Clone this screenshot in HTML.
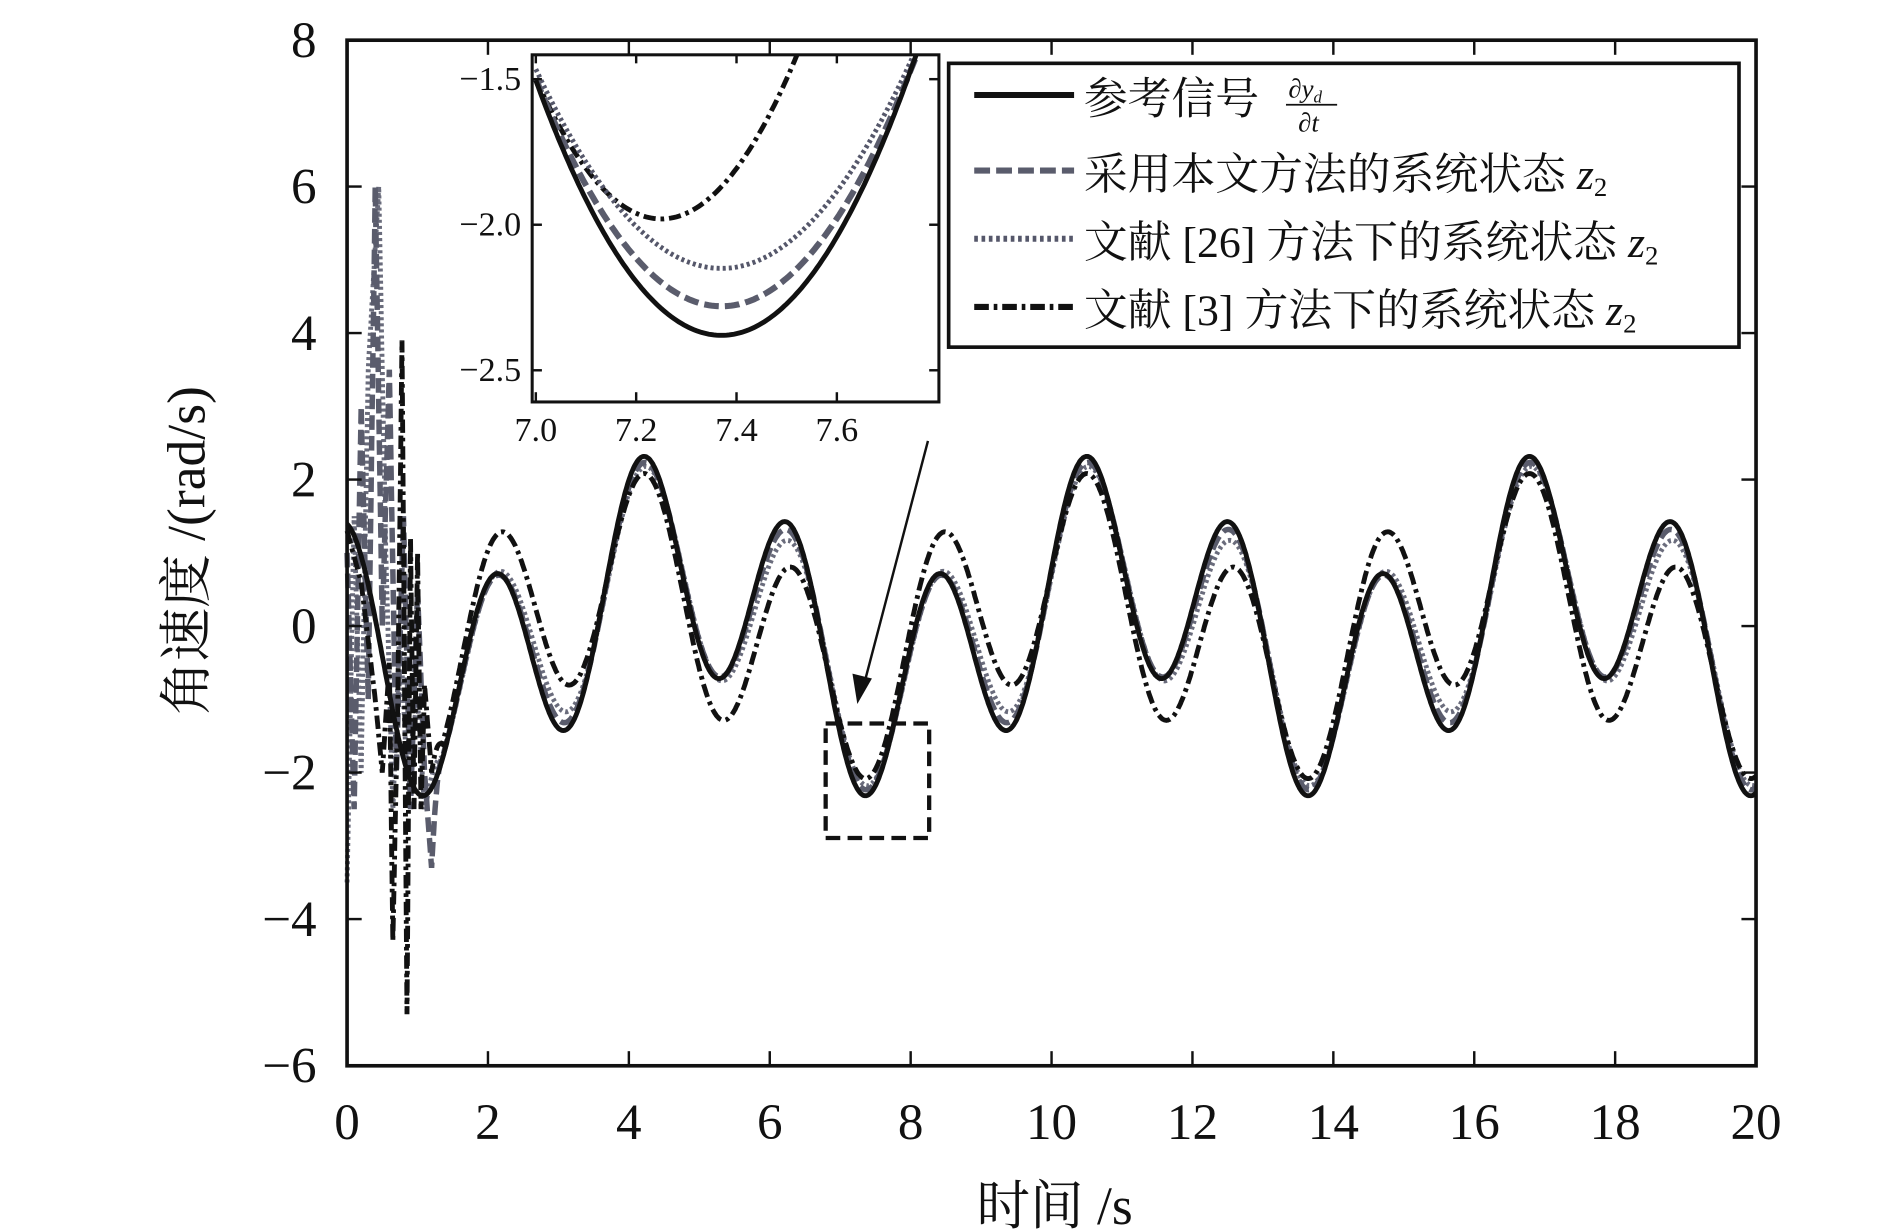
<!DOCTYPE html>
<html><head><meta charset="utf-8"><style>
html,body{margin:0;padding:0;background:#fff;}
svg{display:block;}
text{font-family:"Liberation Serif","Noto Serif CJK SC",serif;fill:#111;}
.cjk{font-family:"Liberation Serif","Noto Serif CJK SC","Noto Sans CJK SC",serif;}
</style></head><body>
<svg id="s" width="1890" height="1229" viewBox="0 0 1552 1009" preserveAspectRatio="none" xmlns="http://www.w3.org/2000/svg">
<rect width="1552" height="1009" fill="#fff"/>
<g id="curves"></g>
<rect x="285" y="33" width="1157" height="842" fill="none" stroke="#111" stroke-width="3"/>
<g id="ticks" stroke="#111" stroke-width="2"></g>
<g id="labels" font-size="42"></g>
<text x="866" y="1005" font-size="44" text-anchor="middle" class="cjk">时间 /s</text>
<text transform="translate(168,452) rotate(-90)" font-size="44" text-anchor="middle" class="cjk">角速度 /(rad/s)</text>
<rect x="678" y="594" width="85" height="94" fill="none" stroke="#111" stroke-width="3.5" stroke-dasharray="12,6"/>
<line x1="762" y1="362" x2="710" y2="560" stroke="#111" stroke-width="2"/>
<polygon points="704,578 700,553 716,557" fill="#111"/>
<rect x="437" y="45" width="334" height="285" fill="#fff" stroke="none"/>
<g id="inset"></g>
<rect x="437" y="45" width="334" height="285" fill="none" stroke="#111" stroke-width="2.5"/>
<rect x="779" y="52" width="649" height="233" fill="#fff" stroke="#111" stroke-width="3"/>
<line x1="800" y1="78" x2="882" y2="78" stroke="#111" stroke-width="5"/>
<line x1="800" y1="140" x2="882" y2="140" stroke="#5a5c6c" stroke-width="5" stroke-dasharray="13,5"/>
<line x1="800" y1="196" x2="882" y2="196" stroke="#55576a" stroke-width="5" stroke-dasharray="3,3"/>
<line x1="800" y1="252" x2="882" y2="252" stroke="#111" stroke-width="5" stroke-dasharray="12,4,3,4"/>
<g font-size="36" class="cjk">
<text x="890" y="93">参考信号</text>
<text x="1058" y="80" font-size="22" font-style="italic">∂y<tspan font-size="14" dy="4">d</tspan></text>
<line x1="1056" y1="86" x2="1098" y2="86" stroke="#111" stroke-width="1.5"/>
<text x="1066" y="108" font-size="22" font-style="italic">∂t</text>
<text x="890" y="155">采用本文方法的系统状态 <tspan font-style="italic">z</tspan><tspan font-size="22" dy="6">2</tspan></text>
<text x="890" y="211">文献 [26] 方法下的系统状态 <tspan font-style="italic">z</tspan><tspan font-size="22" dy="6">2</tspan></text>
<text x="890" y="267">文献 [3] 方法下的系统状态 <tspan font-style="italic">z</tspan><tspan font-size="22" dy="6">2</tspan></text>
</g>
</svg>
<script>
var NS="http://www.w3.org/2000/svg";
function el(p,n,a,t){var e=document.createElementNS(NS,n);for(var k in a)e.setAttribute(k,a[k]);if(t!=null)e.textContent=t;p.appendChild(e);return e;}
var X=function(t){return 285+t*57.85;},Y=function(v){return 514-v*60.14;};
var tk=document.getElementById('ticks'),lb=document.getElementById('labels');
for(var i=0;i<=20;i+=2){el(tk,'line',{x1:X(i),x2:X(i),y1:875,y2:863});el(tk,'line',{x1:X(i),x2:X(i),y1:33,y2:45});
 el(lb,'text',{x:X(i),y:935,'text-anchor':'middle'},String(i));}
for(var v=-6;v<=8;v+=2){el(tk,'line',{x1:285,x2:297,y1:Y(v),y2:Y(v)});el(tk,'line',{x1:1442,x2:1430,y1:Y(v),y2:Y(v)});
 el(lb,'text',{x:260,y:Y(v)+14,'text-anchor':'end'},(v<0?'−':'')+Math.abs(v));}
function ref(t){return 0.93*Math.cos(t-4.63)+1.47*Math.cos(3*t);}
function das(t){return 0.9*Math.cos(t-4.6)+1.4*Math.cos(3*t-0.04);}
function dot(t){return 0.86*Math.cos(t-4.5)+1.35*Math.cos(3*t-0.1);}
function dd(t){return 0.75*Math.cos(t-3.87)+1.38*Math.cos(3*t-0.15);}
function interp(pts,t){for(var i=0;i<pts.length-1;i++){if(t>=pts[i][0]&&t<=pts[i+1][0]){var f=(t-pts[i][0])/(pts[i+1][0]-pts[i][0]);return pts[i][1]+f*(pts[i+1][1]-pts[i][1]);}}return pts[pts.length-1][1];}
var trD=[[0,1],[0.1,-2.5],[0.2,3],[0.3,-1],[0.4,6],[0.5,0],[0.6,3.5],[0.7,-2],[0.8,1.5],[0.9,-2.5],[1.0,0.5],[1.1,-2],[1.2,-3.3],[1.35,-1.5]];
var trO=[[0,-3.5],[0.1,1.5],[0.2,-2],[0.3,3.5],[0.45,6],[0.55,1],[0.65,-2.5],[0.75,0],[0.85,-2],[1.0,-1],[1.1,-2.5],[1.35,-1.4]];
var trC=[[0,1.3],[0.2,0.6],[0.4,-1],[0.5,-2],[0.6,-0.5],[0.65,-4.3],[0.72,-1],[0.78,3.9],[0.85,-5.3],[0.9,1.2],[0.95,-2.5],[1.0,1],[1.05,-2.5],[1.1,-0.8],[1.2,-2],[1.35,-1]];
function mk(f,tr,te){var d='';for(var t=0;t<=20.001;t+=0.01){var v=f(t);if(tr&&t<te){var w=Math.min(1,Math.max(0,(te-t)/0.15));v=w*interp(tr,t)+(1-w)*v;}d+=(d?'L':'M')+X(t).toFixed(1)+','+Y(v).toFixed(1);}return d;}
var g=document.getElementById('curves');
el(g,'path',{d:mk(dot,trO,1.35),fill:'none',stroke:'#6a6c7c','stroke-width':4,'stroke-dasharray':'2.5,2.5'});
el(g,'path',{d:mk(das,trD,1.35),fill:'none',stroke:'#5a5c6c','stroke-width':4.5,'stroke-dasharray':'12,5'});
el(g,'path',{d:mk(dd,trC,1.35),fill:'none',stroke:'#111','stroke-width':4,'stroke-dasharray':'11,4,3,4'});
el(g,'path',{d:mk(ref,null,0),fill:'none',stroke:'#111','stroke-width':4});
var ins=document.getElementById('inset');
var IX=function(t){return 440+(t-7)*412;},IY=function(v){return 65-(v+1.5)*239;};
el(ins,'clipPath',{id:'ic'});el(document.getElementById('ic'),'rect',{x:437,y:45,width:334,height:285});
function par(m,tm,k){var d='';for(var t=7.0;t<=7.8;t+=0.005){var v=m+k*(t-tm)*(t-tm);d+=(d?'L':'M')+IX(t).toFixed(1)+','+IY(v).toFixed(1);}return d;}
var ig=el(ins,'g',{'clip-path':'url(#ic)'});
el(ig,'path',{d:par(-1.98,7.25,7.7),fill:'none',stroke:'#111','stroke-width':4,'stroke-dasharray':'10,4,3,4'});
el(ig,'path',{d:par(-2.15,7.37,5.0),fill:'none',stroke:'#55576a','stroke-width':4,'stroke-dasharray':'2.5,2.5'});
el(ig,'path',{d:par(-2.28,7.37,5.7),fill:'none',stroke:'#5a5c6c','stroke-width':5,'stroke-dasharray':'12,5'});
el(ig,'path',{d:par(-2.38,7.37,6.4),fill:'none',stroke:'#111','stroke-width':4});
var it=[7.0,7.2,7.4,7.6];
for(var i=0;i<4;i++){el(ins,'line',{x1:IX(it[i]),x2:IX(it[i]),y1:330,y2:322,stroke:'#111','stroke-width':2});el(ins,'line',{x1:IX(it[i]),x2:IX(it[i]),y1:45,y2:52,stroke:'#111','stroke-width':2});
 el(ins,'text',{x:IX(it[i]),y:362,'font-size':28,'text-anchor':'middle'},it[i].toFixed(1));}
[-1.5,-2.0,-2.5].forEach(function(v){el(ins,'line',{x1:437,x2:445,y1:IY(v),y2:IY(v),stroke:'#111','stroke-width':2});el(ins,'line',{x1:771,x2:763,y1:IY(v),y2:IY(v),stroke:'#111','stroke-width':2});
 el(ins,'text',{x:428,y:IY(v)+9,'font-size':28,'text-anchor':'end'},'−'+Math.abs(v).toFixed(1));});
</script>
</body></html>
